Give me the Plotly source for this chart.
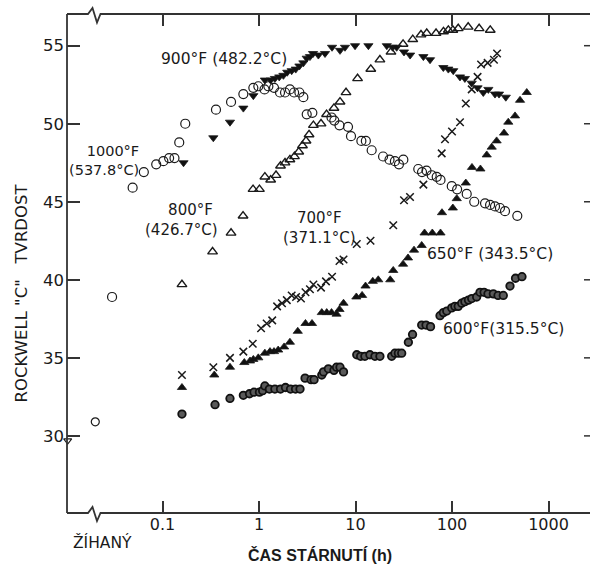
import plotly.graph_objects as go

# ---- data: ageing time (h) and Rockwell C hardness for each temperature ----
t_1000 = [0.030, 0.049, 0.064, 0.086, 0.102, 0.117, 0.133, 0.149, 0.172,
          0.358, 0.513, 0.688, 0.873, 0.983, 1.14, 1.25, 1.43, 1.65, 1.86,
          2.09, 2.31, 2.62, 2.88, 3.12, 3.57, 5.64, 6.03, 6.82, 8.36,
          8.98, 11.5, 12.8, 14.7, 19.3, 22.5, 25.6, 28.2, 31.3, 44.7,
          48.9, 54.4, 61.6, 69.4, 76.0, 99.4, 113, 142, 170, 220,
          248, 279, 314, 354, 475]
hrc_1000 = [38.9, 45.9, 46.9, 47.4, 47.6, 47.8, 47.8, 48.8, 50.0,
            50.9, 51.4, 51.9, 52.3, 52.4, 52.2, 52.4, 52.3, 52.0, 52.0,
            52.2, 52.0, 52.0, 51.7, 50.6, 50.7, 50.4, 50.2, 49.9, 49.8,
            49.2, 48.9, 48.9, 48.3, 47.9, 47.7, 47.6, 47.4, 47.7, 47.1,
            46.9, 47.0, 46.7, 46.6, 46.4, 46.0, 45.8, 45.5, 45.0, 44.9,
            44.8, 44.7, 44.6, 44.4, 44.1]

t_900 = [0.165, 0.336, 0.500, 0.688, 0.873, 1.15, 1.32, 1.46, 1.62, 1.79,
         1.96, 2.18, 2.40, 2.62, 2.88, 3.12, 3.37, 3.63, 4.12, 4.83,
         5.71, 6.91, 7.78, 9.89, 13.6, 21.1, 24.2, 26.7, 31.8, 36.8,
         50.5, 59.2, 81.3, 91.6, 103, 121, 136, 160, 184, 211,
         238, 279, 307, 361]
hrc_900 = [47.5, 49.1, 50.1, 51.0, 51.8, 52.8, 52.8, 52.9, 53.0, 53.1,
           53.3, 53.4, 53.5, 53.7, 53.9, 54.2, 54.3, 54.5, 54.4, 54.5,
           54.9, 54.7, 54.9, 55.0, 55.0, 55.0, 54.9, 54.9, 54.6, 54.4,
           54.3, 54.1, 53.6, 53.5, 53.4, 53.0, 52.9, 52.6, 52.3, 52.0,
           52.2, 51.9, 51.9, 51.7]

t_800 = [0.159, 0.330, 0.513, 0.683, 0.867, 1.01, 1.15, 1.32, 1.50, 1.67,
         1.86, 2.09, 2.33, 2.58, 2.82, 3.07, 3.30, 3.66, 4.39, 5.01,
         5.98, 6.91, 7.97, 10.5, 14.4, 17.9, 23.3, 31.1, 39.2, 47.7,
         54.7, 68.3, 81.6, 91.6, 102, 116, 147, 191, 249]
hrc_800 = [39.7, 41.8, 43.0, 44.1, 45.8, 45.8, 46.6, 46.4, 46.7, 47.3,
           47.5, 47.7, 47.9, 48.2, 48.6, 48.9, 49.3, 49.9, 50.0, 50.6,
           51.0, 51.4, 52.0, 52.9, 53.5, 54.1, 54.6, 55.1, 55.4, 55.7,
           55.8, 55.8, 55.9, 56.0, 56.0, 56.1, 56.2, 56.1, 56.0]

t_700 = [0.159, 0.336, 0.500, 0.688, 0.861, 1.05, 1.20, 1.37, 1.54, 1.73,
         1.94, 2.18, 2.42, 2.72, 3.03, 3.37, 3.66, 4.39, 4.94, 5.71,
         6.82, 7.51, 10.3, 14.3, 24.6, 31.8, 36.7, 50.5, 78.2, 84.6,
         100, 121, 139, 160, 184, 200, 234, 272, 293]
hrc_700 = [33.9, 34.4, 35.0, 35.4, 35.9, 36.9, 37.2, 37.4, 38.3, 38.5,
           38.7, 39.0, 38.9, 38.8, 39.2, 39.4, 39.7, 39.5, 39.9, 40.2,
           41.2, 41.3, 42.3, 42.5, 43.5, 45.1, 45.3, 46.1, 48.1, 49.0,
           49.5, 50.1, 51.3, 52.2, 53.0, 53.8, 53.9, 54.1, 54.5]

t_650 = [0.159, 0.344, 0.500, 0.704, 0.807, 0.873, 0.983, 1.15, 1.30, 1.43,
         1.58, 1.82, 2.09, 2.52, 3.03, 3.54, 4.47, 5.03, 5.64, 6.36,
         6.82, 7.51, 10.2, 11.7, 12.7, 15.1, 17.2, 22.9, 24.6, 31.1,
         35.0, 40.4, 48.5, 51.9, 62.5, 76.0, 78.7, 102, 112, 139,
         161, 197, 229, 258, 290, 346, 383, 450, 507, 595]
hrc_650 = [33.1, 33.9, 34.4, 34.7, 34.8, 34.9, 35.0, 35.3, 35.4, 35.4,
           35.5, 35.7, 36.0, 36.7, 37.2, 37.2, 37.9, 37.9, 37.9, 37.8,
           38.1, 38.5, 38.9, 39.0, 39.6, 39.9, 40.0, 40.0, 40.6, 41.0,
           41.4, 41.9, 42.2, 43.0, 43.0, 43.0, 44.3, 44.6, 45.2, 46.2,
           47.2, 47.1, 48.0, 48.5, 48.9, 49.4, 50.1, 50.5, 51.5, 52.0]

t_600 = [0.159, 0.350, 0.500, 0.688, 0.797, 0.888, 1.01, 1.09, 1.15, 1.28,
         1.46, 1.67, 1.88, 2.12, 2.39, 2.66, 3.00, 3.46, 3.72, 4.47,
         4.66, 5.23, 5.98, 6.36, 6.91, 7.51, 10.3, 11.3, 12.5, 14.1,
         15.9, 17.9, 23.7, 25.6, 27.8, 30.1, 35.3, 39.0, 48.5, 53.8,
         59.9, 75.1, 81.3, 88.2, 99.3, 107, 116, 126, 136, 148,
         160, 180, 195, 215, 236, 268, 300, 340, 399, 455, 531]
hrc_600 = [31.4, 32.0, 32.4, 32.6, 32.7, 32.8, 32.8, 32.9, 33.2, 33.0,
           33.0, 33.0, 33.1, 33.0, 33.0, 33.0, 33.7, 33.6, 33.6, 33.9,
           34.1, 34.3, 34.2, 34.4, 34.4, 34.1, 35.2, 35.1, 35.1, 35.2,
           35.1, 35.1, 35.1, 35.3, 35.3, 35.3, 36.0, 36.5, 37.1, 37.1,
           37.0, 37.7, 37.9, 38.0, 38.2, 38.3, 38.3, 38.5, 38.6, 38.7,
           38.8, 38.9, 39.2, 39.2, 39.1, 39.1, 39.0, 39.0, 39.6, 40.1, 40.2]

# annealed (unaged) hardness, shown left of the axis break
t_annealed_circle = [0.0201]
hrc_annealed_circle = [30.9]
t_annealed_tri = [0.0104]
hrc_annealed_tri = [29.7]

x_tickvals = [0.1, 1, 10, 100, 1000]
x_ticktext = ["0.1", "1", "10", "100", "1000"]
y_tickvals = [30, 35, 40, 45, 50, 55]

# ---- layout geometry ----
W, H = 590, 564
ML, MR, MT, MB = 67, 0, 14, 51
PW, PH = W - ML - MR, H - MT - MB

def px(x):
    return (x - ML) / PW

def py(y):
    return (H - MB - y) / PH

INK = "#1a1a1a"
NUM_FONT = "DejaVu Sans"

fig = go.Figure()

def add(t, h, symbol, size, color, lw=1.3, line_color=INK, clip=True):
    fig.add_trace(go.Scatter(
        x=t, y=h, mode="markers", cliponaxis=clip, showlegend=False,
        marker=dict(symbol=symbol, size=size, color=color,
                    line=dict(width=lw, color=line_color))))

add(t_1000, hrc_1000, "circle-open", 9, INK, 1.2)
add(t_900, hrc_900, "triangle-down", 8, "#111111", 0.8)
add(t_800, hrc_800, "triangle-up-open", 8.5, INK, 1.4)
add(t_700, hrc_700, "x-thin-open", 7.5, INK, 1.5)
add(t_650, hrc_650, "triangle-up", 8, "#111111", 0.8)
add(t_600, hrc_600, "circle", 7.5, "#5a5a5a", 1.8, "#111111")
add(t_annealed_circle, hrc_annealed_circle, "circle-open", 8, INK, 1.2)
add(t_annealed_tri, hrc_annealed_tri, "triangle-down-open", 7, INK, 1.1, clip=False)

# ---- frame: left axis, bottom and top axes with break zigzag ----
def path(points):
    return "M " + " L ".join(f"{px(x):.5f},{py(y):.5f}" for x, y in points)

frame_color = "#333333"
bottom = [(ML, 513), (88, 513), (92.5, 507), (97, 521), (100.5, 513), (W + 2, 513)]
top = [(ML, 14), (88, 14), (92.5, 8), (97, 22.5), (100.5, 14), (W + 2, 14)]
left = [(ML, 14), (ML, 513)]
shapes = []
for pts in (bottom, top, left):
    shapes.append(dict(type="path", path=path(pts), xref="paper", yref="paper",
                       line=dict(color=frame_color, width=1.8)))
# short ticks along the right edge
for v in y_tickvals:
    shapes.append(dict(type="line", xref="paper", yref="y",
                       x0=px(584), x1=1.0, y0=v, y1=v,
                       line=dict(color=frame_color, width=1.5)))

# ---- text ----
def label(x, y, text, size=15.5, family=NUM_FONT, angle=0, bold=False,
          xanchor="center", align="center"):
    return dict(x=px(x), y=py(y), xref="paper", yref="paper", text=text,
                showarrow=False, textangle=angle, xanchor=xanchor,
                yanchor="middle", align=align,
                font=dict(family=family, size=size, color=INK,
                          weight="bold" if bold else "normal"))

annotations = [
    label(224, 58.5, "900°F (482.2°C)"),
    label(141, 161, "1000°F<br>(537.8°C)", 14.5, xanchor="right", align="right"),
    label(220, 219.5, "800°F\u00a0<br>(426.7°C)", 15, xanchor="right", align="right"),
    label(319, 227.5, "700°F<br>(371.1°C)", 15),
    label(490, 253.5, "650°F (343.5°C)"),
    label(503, 329, "600°F(315.5°C)"),
    label(102, 542, "ŽÍHANÝ", 15.5),
    label(320, 555, "ČAS STÁRNUTÍ (h)", 16, "Liberation Sans", bold=True),
    label(20.5, 293, "ROCKWELL\u00a0\"C\"\u00a0\u00a0\u00a0TVRDOST", 16.5, angle=-90),
]

fig.update_layout(
    width=W, height=H,
    margin=dict(l=ML, r=MR, t=MT, b=MB, pad=0),
    paper_bgcolor="white", plot_bgcolor="white",
    shapes=shapes, annotations=annotations,
    xaxis=dict(type="log", range=[-1.99, 3.43], showline=False,
               showgrid=False, zeroline=False, mirror="ticks",
               ticks="inside", ticklen=12, tickwidth=1.5,
               tickcolor=frame_color, tickvals=x_tickvals,
               ticktext=x_ticktext,
               tickfont=dict(family=NUM_FONT, size=16, color=INK)),
    yaxis=dict(range=[25.06, 57.03], showline=False, showgrid=False,
               zeroline=False, ticks="inside", ticklen=13, tickwidth=1.5,
               tickcolor=frame_color, tickvals=y_tickvals,
               ticklabelstandoff=2,
               tickfont=dict(family=NUM_FONT, size=16.5, color=INK)),
)

fig.write_html("out.html")
